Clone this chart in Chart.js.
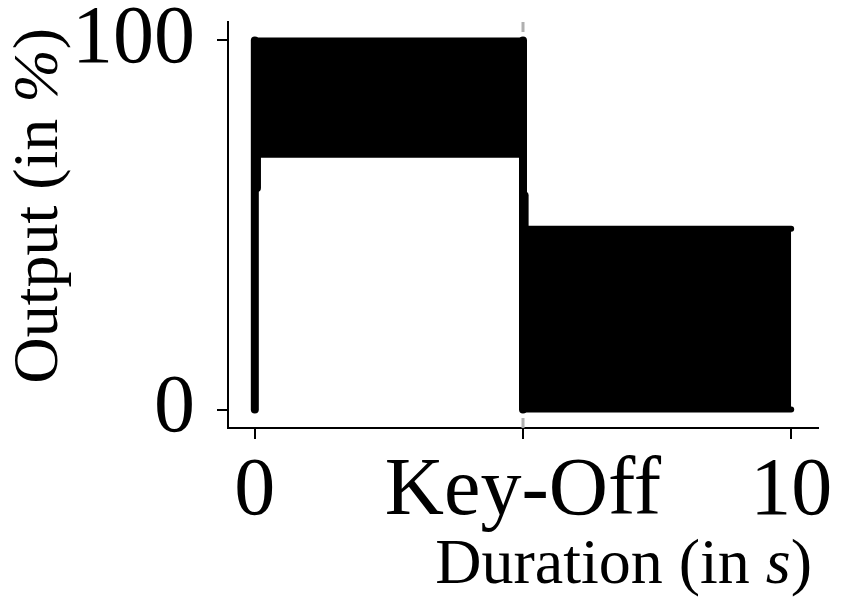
<!DOCTYPE html>
<html>
<head>
<meta charset="utf-8">
<script src="https://cdn.jsdelivr.net/npm/chart.js@4/dist/chart.umd.min.js"></script>
<style>
  body { margin: 0; background: #fff; }
</style>
</head>
<body>
<canvas id="myChart" width="848" height="607"></canvas>
<script>
// envelope of the output signal (seconds, percent)
const sustainTime = [0, 5];
const sustainHigh = [100, 100];
const sustainLow = [69, 69];
const releaseTime = [5, 10];
const releaseHigh = [49, 49];
const releaseLow = [0, 0];
const attackTime = [0, 0];
const attackLevel = [0, 100];
const attackStepTime = [0.04, 0.04];
const attackStepLevel = [60, 69];
const keyOffTime = [5, 5];
const keyOffLevel = [100, 0];
const releaseStepTime = [5.03, 5.03];
const releaseStepLevel = [49, 58];
const keyOffLineTime = [5, 5];
const keyOffLineLevel = [-5, 105];

const xTickValues = [0, 5, 10];
const xTickLabels = ['0', 'Key-Off', '10'];
const yTickValues = [0, 100];

const pts = (xs, ys) => xs.map((x, i) => ({ x: x, y: ys[i] }));

const serif = '"Liberation Serif", "DejaVu Serif", serif';

const line = (data, width, extra) => Object.assign({
  data: data,
  borderColor: '#000',
  backgroundColor: '#000',
  borderWidth: width,
  borderCapStyle: 'round',
  borderJoinStyle: 'round',
  pointRadius: 0,
  fill: false,
  order: 1
}, extra || {});

const chartData = {
  datasets: [
    line(pts(sustainTime, sustainHigh), 6, { fill: '+1' }),
    line(pts(sustainTime, sustainLow), 6),
    line(pts(releaseTime, releaseHigh), 6, { fill: '+1' }),
    line(pts(releaseTime, releaseLow), 6),
    line(pts(attackTime, attackLevel), 8),
    line(pts(attackStepTime, attackStepLevel), 8),
    line(pts(keyOffTime, keyOffLevel), 8),
    line(pts(releaseStepTime, releaseStepLevel), 8),
    line(pts(keyOffLineTime, keyOffLineLevel), 3, {
      borderColor: '#b0b0b0', borderDash: [10, 8], borderCapStyle: 'butt', order: 10
    })
  ]
};

// axis titles with italic units
const axisTitles = {
  id: 'axisTitles',
  afterDraw(chart) {
    const ctx = chart.ctx;
    const up = '64px ' + serif;
    const it = 'italic 64px ' + serif;
    const parts = (p) => p.map(([t, f]) => { ctx.font = f; return { t, f, w: ctx.measureText(t).width }; });
    ctx.save();
    ctx.fillStyle = '#000';
    ctx.textBaseline = 'alphabetic';
    ctx.textAlign = 'left';

    const xt = parts([['Duration (in ', up], ['s', it], [')', up]]);
    let xw = xt.reduce((a, p) => a + p.w, 0);
    let x = 812 - xw;
    xt.forEach(p => { ctx.font = p.f; ctx.fillText(p.t, x, 583); x += p.w; });

    const yt = parts([['Output (in ', up], ['%', it], [')', up]]);
    let yw = yt.reduce((a, p) => a + p.w, 0);
    ctx.translate(57, 28 + yw);
    ctx.rotate(-Math.PI / 2);
    let y = 0;
    yt.forEach(p => { ctx.font = p.f; ctx.fillText(p.t, y, 0); y += p.w; });
    ctx.restore();
  }
};

const chartOptions = {
  responsive: false,
  animation: false,
  devicePixelRatio: 1,
  layout: { padding: { top: 22, right: 30, left: 0, bottom: 0 } },
  plugins: { legend: { display: false }, tooltip: { enabled: false } },
  scales: {
    x: {
      type: 'linear',
      min: -0.5,
      max: 10.5,
      afterBuildTicks: s => { s.ticks = xTickValues.map(v => ({ value: v })); },
      afterFit: s => { s.height = 179; s.paddingLeft = 0; s.paddingRight = 0; },
      ticks: {
        callback: v => xTickLabels[xTickValues.indexOf(v)],
        font: { family: serif, size: 82 },
        color: '#000',
        padding: 4,
        maxRotation: 0,
        autoSkip: false
      },
      grid: { drawOnChartArea: false, drawTicks: true, tickLength: 11, color: '#000', lineWidth: 2 },
      border: { display: true, color: '#000', width: 2 }
    },
    y: {
      min: -5,
      max: 105,
      afterBuildTicks: s => { s.ticks = yTickValues.map(v => ({ value: v })); },
      afterFit: s => { s.width = 228; s.paddingTop = 0; s.paddingBottom = 0; },
      ticks: {
        font: { family: serif, size: 82 },
        color: '#000',
        padding: 22,
        autoSkip: false
      },
      grid: { drawOnChartArea: false, drawTicks: true, tickLength: 11, color: '#000', lineWidth: 2 },
      border: { display: true, color: '#000', width: 2 }
    }
  }
};

const ctx = document.getElementById('myChart').getContext('2d');
const myChart = new Chart(ctx, {
  type: 'line',
  data: chartData,
  options: chartOptions,
  plugins: [axisTitles]
});
</script>
</body>
</html>
